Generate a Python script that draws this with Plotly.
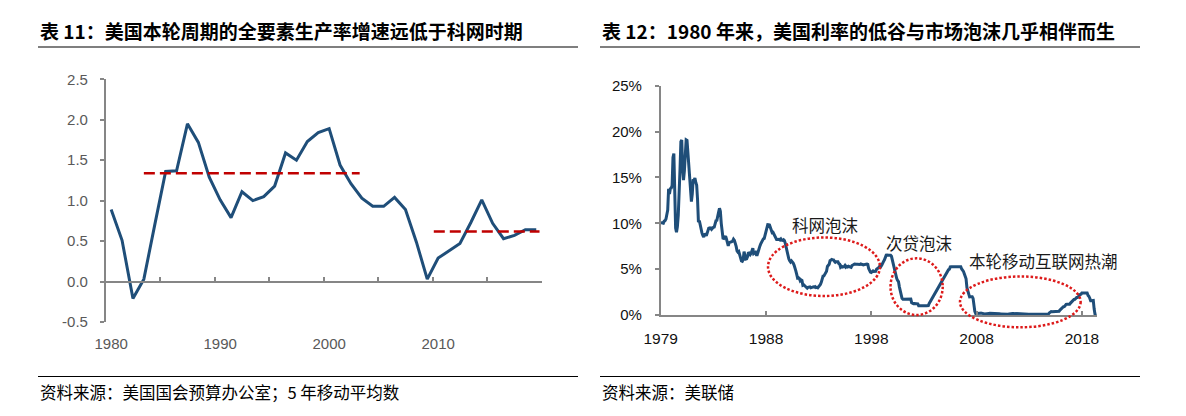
import plotly.graph_objects as go

# page has an 8px body margin; figure sized to fit inside the 1186x416 window
PAGE_W, PAGE_H, OFF = 1186, 416, 8
W, H = PAGE_W - 2 * OFF, PAGE_H - 2 * OFF

# ---------------- Left chart data (TFP growth, 5-yr moving average) ----------------
tfp_years = list(range(1980, 2020))
tfp_values = [0.89, 0.51, -0.21, 0.03, 0.70, 1.36, 1.37, 1.95, 1.72, 1.29,
              1.01, 0.79, 1.11, 1.00, 1.05, 1.18, 1.59, 1.50, 1.73, 1.84,
              1.89, 1.44, 1.21, 1.03, 0.93, 0.93, 1.04, 0.89, 0.49, 0.03,
              0.29, 0.38, 0.47, 0.73, 1.01, 0.72, 0.53, 0.57, 0.64, 0.64]
avg_starts = [1983.0, 2009.6]
avg_ends = [2002.8, 2019.3]
avg_levels = [1.34, 0.62]
left_xtick_vals = [1980, 1990, 2000, 2010]
left_ytick_vals = [-0.5, 0.0, 0.5, 1.0, 1.5, 2.0, 2.5]
left_ytick_text = ["-0.5", "0.0", "0.5", "1.0", "1.5", "2.0", "2.5"]
left_minor_ticks = [1979.5, 1984.5, 1989.5, 1994.5, 1999.5, 2004.5, 2009.5, 2014.5, 2019.5]

# ---------------- Right chart data (effective federal funds rate, monthly from Jan 1979) ----------------
ff_1979 = [10.07, 10.06, 10.09, 10.01, 10.24, 10.29, 10.47, 10.94, 11.43, 13.77, 13.18, 13.78]
ff_1980 = [13.82, 14.13, 17.19, 17.61, 10.98, 9.47, 9.03, 9.61, 10.87, 12.81, 15.85, 18.90]
ff_1981 = [19.08, 15.93, 14.70, 15.72, 18.52, 19.10, 19.04, 17.82, 15.87, 15.08, 13.31, 12.37]
ff_1982 = [13.22, 14.78, 14.68, 14.94, 14.45, 14.15, 12.59, 10.12, 10.31, 9.71, 9.20, 8.95]
ff_1983 = [8.68, 8.51, 8.77, 8.80, 8.63, 8.98, 9.37, 9.56, 9.45, 9.48, 9.34, 9.47]
ff_1984 = [9.56, 9.59, 9.91, 10.29, 10.32, 11.06, 11.23, 11.64, 11.30, 9.99, 9.43, 8.38]
ff_1985 = [8.35, 8.50, 8.58, 8.27, 7.97, 7.53, 7.88, 7.90, 7.92, 7.99, 8.05, 8.27]
ff_1986 = [8.14, 7.86, 7.48, 6.99, 6.85, 6.92, 6.56, 6.17, 5.89, 5.85, 6.04, 6.91]
ff_1987 = [6.43, 6.10, 6.13, 6.37, 6.85, 6.73, 6.58, 6.73, 7.22, 7.29, 6.69, 6.77]
ff_1988 = [6.83, 6.58, 6.58, 6.87, 7.09, 7.51, 7.75, 8.01, 8.19, 8.30, 8.35, 8.76]
ff_1989 = [9.12, 9.36, 9.85, 9.84, 9.81, 9.53, 9.24, 8.99, 9.02, 8.84, 8.55, 8.45]
ff_1990 = [8.23, 8.24, 8.28, 8.26, 8.18, 8.29, 8.15, 8.13, 8.20, 8.11, 7.81, 7.31]
ff_1991 = [6.91, 6.25, 6.12, 5.91, 5.78, 5.90, 5.82, 5.66, 5.45, 5.21, 4.81, 4.43]
ff_1992 = [4.03, 4.06, 3.98, 3.73, 3.82, 3.76, 3.25, 3.30, 3.22, 3.10, 3.09, 2.92]
ff_1993 = [3.02, 3.03, 3.07, 2.96, 3.00, 3.04, 3.06, 3.03, 3.09, 2.99, 3.02, 2.96]
ff_1994 = [3.05, 3.25, 3.34, 3.56, 4.01, 4.25, 4.26, 4.47, 4.73, 4.76, 5.29, 5.45]
ff_1995 = [5.53, 5.92, 5.98, 6.05, 6.01, 6.00, 5.85, 5.74, 5.80, 5.76, 5.80, 5.60]
ff_1996 = [5.56, 5.22, 5.31, 5.22, 5.24, 5.27, 5.40, 5.22, 5.30, 5.24, 5.31, 5.29]
ff_1997 = [5.25, 5.19, 5.39, 5.51, 5.50, 5.56, 5.52, 5.54, 5.54, 5.50, 5.52, 5.50]
ff_1998 = [5.56, 5.51, 5.49, 5.45, 5.49, 5.56, 5.54, 5.55, 5.51, 5.07, 4.83, 4.68]
ff_1999 = [4.63, 4.76, 4.81, 4.74, 4.74, 4.76, 4.99, 5.07, 5.22, 5.20, 5.42, 5.30]
ff_2000 = [5.45, 5.73, 5.85, 6.02, 6.27, 6.53, 6.54, 6.50, 6.52, 6.51, 6.51, 6.40]
ff_2001 = [5.98, 5.49, 5.31, 4.80, 4.21, 3.97, 3.77, 3.65, 3.07, 2.49, 2.09, 1.82]
ff_2002 = [1.73, 1.74, 1.73, 1.75, 1.75, 1.75, 1.73, 1.74, 1.75, 1.75, 1.34, 1.24]
ff_2003 = [1.24, 1.26, 1.25, 1.26, 1.26, 1.22, 1.01, 1.03, 1.01, 1.01, 1.00, 0.98]
ff_2004 = [1.00, 1.01, 1.00, 1.00, 1.00, 1.03, 1.26, 1.43, 1.61, 1.76, 1.93, 2.16]
ff_2005 = [2.28, 2.50, 2.63, 2.79, 3.00, 3.04, 3.26, 3.50, 3.62, 3.78, 4.00, 4.16]
ff_2006 = [4.29, 4.49, 4.59, 4.79, 4.94, 4.99, 5.24, 5.25, 5.25, 5.25, 5.25, 5.24]
ff_2007 = [5.25, 5.26, 5.26, 5.25, 5.25, 5.25, 5.26, 5.02, 4.94, 4.76, 4.49, 4.24]
ff_2008 = [3.94, 2.98, 2.61, 2.28, 1.98, 2.00, 2.01, 2.00, 1.81, 0.97, 0.39, 0.16]
ff_2009 = [0.15, 0.22, 0.18, 0.15, 0.18, 0.21, 0.16, 0.16, 0.15, 0.12, 0.12, 0.12]
ff_2010 = [0.11, 0.13, 0.16, 0.20, 0.20, 0.18, 0.18, 0.19, 0.19, 0.19, 0.19, 0.18]
ff_2011 = [0.17, 0.16, 0.14, 0.10, 0.09, 0.09, 0.07, 0.10, 0.08, 0.07, 0.08, 0.07]
ff_2012 = [0.08, 0.10, 0.13, 0.14, 0.16, 0.16, 0.16, 0.13, 0.14, 0.16, 0.16, 0.16]
ff_2013 = [0.14, 0.15, 0.14, 0.15, 0.11, 0.09, 0.09, 0.08, 0.08, 0.09, 0.08, 0.09]
ff_2014 = [0.07, 0.07, 0.08, 0.09, 0.09, 0.10, 0.09, 0.09, 0.09, 0.09, 0.09, 0.12]
ff_2015 = [0.11, 0.11, 0.11, 0.12, 0.12, 0.13, 0.13, 0.14, 0.14, 0.12, 0.12, 0.24]
ff_2016 = [0.34, 0.38, 0.36, 0.37, 0.37, 0.38, 0.39, 0.40, 0.40, 0.40, 0.41, 0.54]
ff_2017 = [0.65, 0.66, 0.79, 0.90, 0.91, 1.04, 1.15, 1.16, 1.15, 1.15, 1.16, 1.30]
ff_2018 = [1.41, 1.42, 1.51, 1.69, 1.70, 1.82, 1.91, 1.91, 1.95, 2.19, 2.20, 2.27]
ff_2019 = [2.40, 2.40, 2.41, 2.42, 2.39, 2.38, 2.40, 2.13, 2.04, 1.83, 1.55, 1.55]
ff_2020 = [1.55, 1.58, 0.65, 0.05, 0.05, 0.08]

fed_funds = (ff_1979 + ff_1980 + ff_1981 + ff_1982 + ff_1983 + ff_1984 + ff_1985 + ff_1986
             + ff_1987 + ff_1988 + ff_1989 + ff_1990 + ff_1991 + ff_1992 + ff_1993 + ff_1994
             + ff_1995 + ff_1996 + ff_1997 + ff_1998 + ff_1999 + ff_2000 + ff_2001 + ff_2002
             + ff_2003 + ff_2004 + ff_2005 + ff_2006 + ff_2007 + ff_2008 + ff_2009 + ff_2010
             + ff_2011 + ff_2012 + ff_2013 + ff_2014 + ff_2015 + ff_2016 + ff_2017 + ff_2018
             + ff_2019 + ff_2020)
month_index = list(range(len(fed_funds)))
right_tick_idx = [0, 120, 240, 360, 480]
right_tick_labels = ["1979", "1988", "1998", "2008", "2018"]
right_ytick_vals = [0, 5, 10, 15, 20, 25]

bubble_names = ["科网泡沫", "次贷泡沫", "本轮移动互联网热潮"]

# ---------------- Styles / layout geometry ----------------
BLUE = "#1F4E79"
DRED = "#C00000"
DOTRED = "#DD1A1A"
GRAY = "#868686"
LBL_GRAY = "#595959"
CJK = "Noto Sans CJK SC"
NUM = "Liberation Sans, Arial, sans-serif"

def px_x(p):
    return (p - OFF) / W

def px_y(p):
    return 1 - (p - OFF) / H

# left plot area (page pixels)
L_X0, L_X1, L_Y0, L_Y1 = 105.7, 541.7, 79.3, 322.0
L_XR = [1979.5, 2019.5]
L_YR = [-0.5, 2.5]
# right plot area
R_X0, R_X1, R_Y0, R_Y1 = 660.7, 1096.8, 85.7, 315.0
R_XR = [0, 497]
R_YR = [0, 25]

def right_to_paper(xv, yv):
    fx = (xv - R_XR[0]) / (R_XR[1] - R_XR[0])
    fy = (yv - R_YR[0]) / (R_YR[1] - R_YR[0])
    return (px_x(R_X0) + fx * (px_x(R_X1) - px_x(R_X0)),
            px_y(R_Y1) + fy * (px_y(R_Y0) - px_y(R_Y1)))

fig = go.Figure()

# Left: TFP line
fig.add_trace(go.Scatter(x=tfp_years, y=tfp_values, mode="lines",
                         line=dict(color=BLUE, width=3), xaxis="x", yaxis="y",
                         hoverinfo="skip", showlegend=False))
# Left: average dashed lines (on overlay axis x3 sharing the same range)
for s, e, v in zip(avg_starts, avg_ends, avg_levels):
    fig.add_trace(go.Scatter(x=[s, e], y=[v, v], mode="lines",
                             line=dict(color=DRED, width=2.5, dash="11px,5px"),
                             xaxis="x3", yaxis="y", hoverinfo="skip", showlegend=False))

# Right: fed funds line
fig.add_trace(go.Scatter(x=month_index, y=fed_funds, mode="lines",
                         line=dict(color=BLUE, width=3), xaxis="x2", yaxis="y2",
                         hoverinfo="skip", showlegend=False))

y0_frac = (0 - L_YR[0]) / (L_YR[1] - L_YR[0])
zero_pos = px_y(L_Y1) + y0_frac * (px_y(L_Y0) - px_y(L_Y1))

fig.update_layout(
    template="none",
    width=W, height=H, margin=dict(l=0, r=0, t=0, b=0, autoexpand=False),
    paper_bgcolor="white", plot_bgcolor="white", showlegend=False,
    xaxis=dict(domain=[px_x(L_X0), px_x(L_X1)], range=L_XR, anchor="y", automargin=False,
               showline=False, showgrid=False, zeroline=False, ticks="",
               tickvals=left_xtick_vals, ticktext=[str(v) for v in left_xtick_vals],
               tickfont=dict(family=NUM, size=15, color=LBL_GRAY), ticklabelstandoff=11),
    xaxis3=dict(overlaying="x", anchor="free", position=zero_pos, range=L_XR, automargin=False,
                showline=True, linecolor=GRAY, linewidth=1.5, showgrid=False, zeroline=False,
                ticks="inside", ticklen=4, tickwidth=1.5, tickcolor=GRAY,
                tickvals=left_minor_ticks, showticklabels=False),
    yaxis=dict(domain=[px_y(L_Y1), px_y(L_Y0)], range=L_YR, anchor="x", automargin=False,
               showline=True, linecolor=GRAY, linewidth=1.5, showgrid=False, zeroline=False,
               ticks="outside", ticklen=4, tickwidth=1.5, tickcolor=GRAY,
               tickvals=left_ytick_vals, ticktext=left_ytick_text,
               tickfont=dict(family=NUM, size=15, color=LBL_GRAY), ticklabelstandoff=9),
    xaxis2=dict(domain=[px_x(R_X0), px_x(R_X1)], range=R_XR, anchor="y2", automargin=False,
                showline=True, linecolor=GRAY, linewidth=1.5, showgrid=False, zeroline=False,
                ticks="inside", ticklen=4, tickwidth=1.5, tickcolor=GRAY,
                tickvals=right_tick_idx, ticktext=right_tick_labels,
                tickfont=dict(family=NUM, size=15.5, color="#111111"), ticklabelstandoff=9),
    yaxis2=dict(domain=[px_y(R_Y1), px_y(R_Y0)], range=R_YR, anchor="x2", automargin=False,
                showline=True, linecolor=GRAY, linewidth=1.5, showgrid=False, zeroline=False,
                ticks="outside", ticklen=4, tickwidth=1.5, tickcolor=GRAY,
                tickvals=right_ytick_vals, ticktext=[f"{v}%" for v in right_ytick_vals],
                tickfont=dict(family=NUM, size=15, color="#111111"), ticklabelstandoff=10),
)

# Ellipses around bubble periods (data coords -> paper coords)
ellipses = [((122.3, 2.07), (249.9, 8.45)),
            ((261.9, 0.0), (321.4, 6.18)),
            ((341.1, -1.34), (478.6, 4.2))]
for (ax0, ay0), (ax1, ay1) in ellipses:
    p0 = right_to_paper(ax0, ay0)
    p1 = right_to_paper(ax1, ay1)
    fig.add_shape(type="circle", xref="paper", yref="paper",
                  x0=p0[0], y0=p0[1], x1=p1[0], y1=p1[1],
                  line=dict(color=DOTRED, width=2.5, dash="2.5px,2px"))

# Bubble labels
label_pos = [(186.7, 9.81), (294.6, 7.82), (436.6, 5.89)]
for name, (lx, ly) in zip(bubble_names, label_pos):
    fig.add_annotation(x=lx, y=ly, xref="x2", yref="y2", text=name, showarrow=False,
                       font=dict(family=CJK, size=16.5, color="#1a1a1a"),
                       xanchor="center", yanchor="middle")

# Titles
titles = [("表 11：美国本轮周期的全要素生产率增速远低于科网时期", 38),
          ("表 12：1980 年来，美国利率的低谷与市场泡沫几乎相伴而生", 600)]
for text, x in titles:
    fig.add_annotation(x=px_x(x), y=px_y(30), xref="paper", yref="paper",
                       text=f"<b>{text}</b>", showarrow=False,
                       font=dict(family=CJK, size=19, color="black"),
                       xanchor="left", yanchor="middle")

sources = [("资料来源：美国国会预算办公室；5 年移动平均数", 38),
           ("资料来源：美联储", 600)]
for text, x in sources:
    fig.add_annotation(x=px_x(x), y=px_y(392), xref="paper", yref="paper",
                       text=text, showarrow=False,
                       font=dict(family=CJK, size=16.5, color="black"),
                       xanchor="left", yanchor="middle")

# Separator lines
for x0, x1 in [(38, 578), (600, 1140)]:
    for yy in (47, 376.5):
        fig.add_shape(type="line", xref="paper", yref="paper",
                      x0=px_x(x0), x1=px_x(x1), y0=px_y(yy), y1=px_y(yy),
                      line=dict(color="black", width=1.2))

fig.write_html("out.html")
